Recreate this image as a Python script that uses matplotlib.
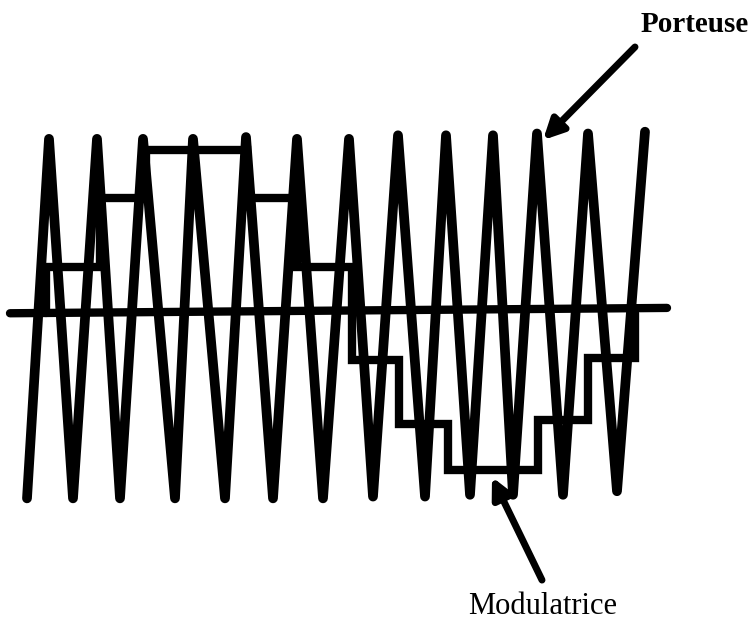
import numpy as np
import matplotlib
matplotlib.use("Agg")
import matplotlib.pyplot as plt

# Carrier (Porteuse): triangle wave vertices (x position, amplitude)
trough_x = [27, 73, 120, 175, 225, 273, 323, 373, 425, 470, 513, 563, 617]
trough_v = [-1.03, -1.03, -1.03, -1.03, -1.03, -1.03, -1.03, -1.02, -1.02, -1.01, -1.01, -1.01, -0.99]
peak_x = [49, 97, 143, 193, 246, 297, 349, 398, 446, 493, 537, 588, 645]
peak_v = [0.99, 0.99, 0.99, 0.99, 1.00, 0.99, 0.99, 1.01, 1.01, 1.01, 1.02, 1.02, 1.03]

# Modulating signal (Modulatrice): staircase
step_edges = [46, 100, 146, 247, 297, 352, 399, 448, 538, 588, 635]
step_levels = [0.27, 0.66, 0.93, 0.66, 0.27, -0.25, -0.61, -0.87, -0.59, -0.24]
step_start = 0.01
step_end = 0.01

# Zero line
zero_x = [10, 667]
zero_v = [0.01, 0.04]

labels = ["Porteuse", "Modulatrice"]

fig = plt.figure(figsize=(7.55, 6.21), dpi=100)
ax = fig.add_axes([0, 0, 1, 1])
ax.set_xlim(0, 755)
ax.set_ylim(-1.719, 1.770)
ax.axis("off")

# carrier path
cx, cy = [], []
for tx, tv, px, pv in zip(trough_x, trough_v, peak_x, peak_v):
    cx += [tx, px]
    cy += [tv, pv]
ax.plot(cx, cy, color="black", lw=7, solid_capstyle="round",
        solid_joinstyle="round")

# zero line
ax.plot(zero_x, zero_v, color="black", lw=6, solid_capstyle="round")

# staircase path
sx = [step_edges[0]]
sy = [step_start]
for i, lev in enumerate(step_levels):
    sx += [step_edges[i], step_edges[i + 1]]
    sy += [lev, lev]
sx.append(step_edges[-1])
sy.append(step_end)
ax.plot(sx, sy, color="black", lw=6, solid_capstyle="round",
        solid_joinstyle="miter")

# annotations
ax.annotate("", xy=(543, 0.983), xytext=(635, 1.506),
            arrowprops=dict(arrowstyle="-|>,head_length=0.6,head_width=0.3",
                            color="black", lw=5, mutation_scale=20,
                            shrinkA=0, shrinkB=0, capstyle="round"))
ax.text(641, 1.590, labels[0], family="Liberation Serif", fontweight="bold",
        fontsize=21, ha="left", va="baseline", color="black")

ax.annotate("", xy=(492, -0.910), xytext=(542, -1.489),
            arrowprops=dict(arrowstyle="-|>,head_length=0.6,head_width=0.3",
                            color="black", lw=5, mutation_scale=20,
                            shrinkA=0, shrinkB=0, capstyle="round"))
ax.text(468, -1.680, labels[1], family="Liberation Serif",
        fontsize=22, ha="left", va="baseline", color="black")

fig.savefig("out.png", dpi=100, facecolor="white")
